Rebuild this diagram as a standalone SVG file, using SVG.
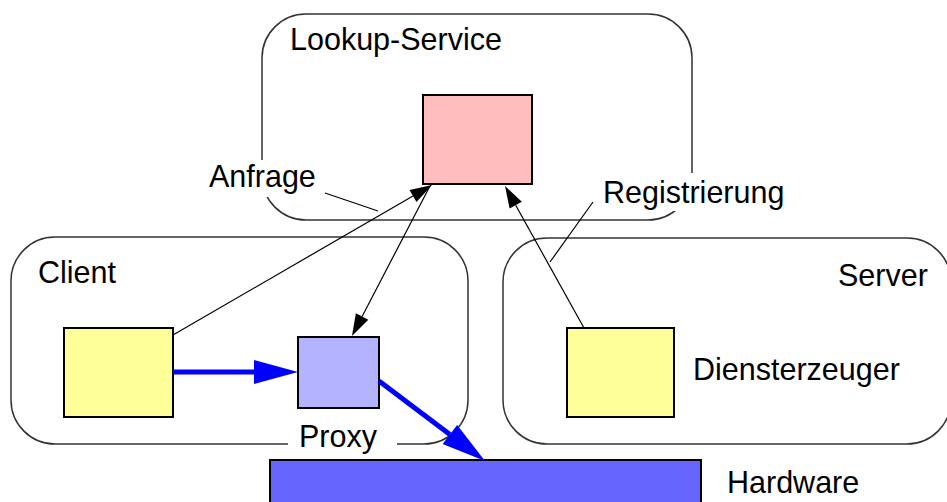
<svg xmlns="http://www.w3.org/2000/svg" width="947" height="502" viewBox="0 0 947 502">
  <style>
    .frame { fill: none; stroke: #333; stroke-width: 1.5; }
    .box { stroke: #000; stroke-width: 2; }
    .label { font-family: "Liberation Sans", Arial, sans-serif; font-size: 30.5px; fill: #000; }
    .thin { stroke: #000; stroke-width: 1.2; fill: none; }
    .thick { stroke: #0000ff; stroke-width: 5; fill: none; }
    .bg { fill: #fff; }
  </style>
  <defs>
    <marker id="headBlack" markerUnits="userSpaceOnUse" markerWidth="22" markerHeight="14" refX="0" refY="7" orient="auto" overflow="visible">
      <path d="M0,0 L22,7 L0,14 Z" fill="#000"/>
    </marker>
    <marker id="headBlue" markerUnits="userSpaceOnUse" markerWidth="44" markerHeight="24" refX="0" refY="12" orient="auto" overflow="visible">
      <path d="M0,0 L44,12 L0,24 Z" fill="#0000ff"/>
    </marker>
  </defs>

  <!-- containers -->
  <g id="lookup-service">
    <rect class="frame" x="262" y="14" width="430" height="206" rx="44" ry="44"/>
    <text class="label" x="290" y="50">Lookup-Service</text>
  </g>
  <g id="client">
    <rect class="frame" x="11" y="237" width="457" height="207" rx="44" ry="44"/>
    <text class="label" x="38" y="283">Client</text>
  </g>
  <g id="server">
    <rect class="frame" x="503" y="238" width="448" height="206" rx="44" ry="44"/>
    <text class="label" x="838" y="286">Server</text>
  </g>

  <!-- nodes -->
  <g id="registry">
    <rect class="box" x="423" y="95" width="109" height="89" fill="#ffbdbd"/>
  </g>
  <g id="client-app">
    <rect class="box" x="64" y="328" width="109" height="89" fill="#ffff99"/>
  </g>
  <g id="proxy">
    <rect class="box" x="298" y="337" width="81" height="71" fill="#b3b3ff"/>
  </g>
  <g id="service-provider">
    <rect class="box" x="567" y="328" width="107" height="89" fill="#ffff99"/>
    <text class="label" x="693" y="380">Diensterzeuger</text>
  </g>
  <g id="hardware">
    <rect class="box" x="270" y="460" width="431" height="50" fill="#6666ff"/>
    <text class="label" x="727" y="493">Hardware</text>
  </g>

  <!-- connectors -->
  <g id="connectors">
    <line class="thin" x1="173" y1="335" x2="413" y2="196" marker-end="url(#headBlack)"/>
    <line class="thin" x1="431" y1="184" x2="362.1" y2="316.5" marker-end="url(#headBlack)"/>
    <line class="thin" x1="584" y1="328" x2="515.7" y2="205.2" marker-end="url(#headBlack)"/>
    <line class="thick" x1="173" y1="372" x2="254" y2="372" marker-end="url(#headBlue)"/>
    <line class="thick" x1="379" y1="381" x2="449.9" y2="434.5" marker-end="url(#headBlue)"/>
  </g>

  <!-- edge labels with leader lines -->
  <g id="label-anfrage">
    <rect class="bg" x="204" y="160" width="117" height="37"/>
    <text class="label" x="209" y="187">Anfrage</text>
    <line class="thin" x1="325" y1="193" x2="378" y2="211"/>
  </g>
  <g id="label-registrierung">
    <rect class="bg" x="597" y="173" width="193" height="38"/>
    <text class="label" x="603" y="203">Registrierung</text>
    <line class="thin" x1="593" y1="202" x2="550" y2="262"/>
  </g>
  <g id="label-proxy">
    <rect class="bg" x="288" y="425" width="109" height="27"/>
    <text class="label" x="299" y="447">Proxy</text>
  </g>
</svg>
